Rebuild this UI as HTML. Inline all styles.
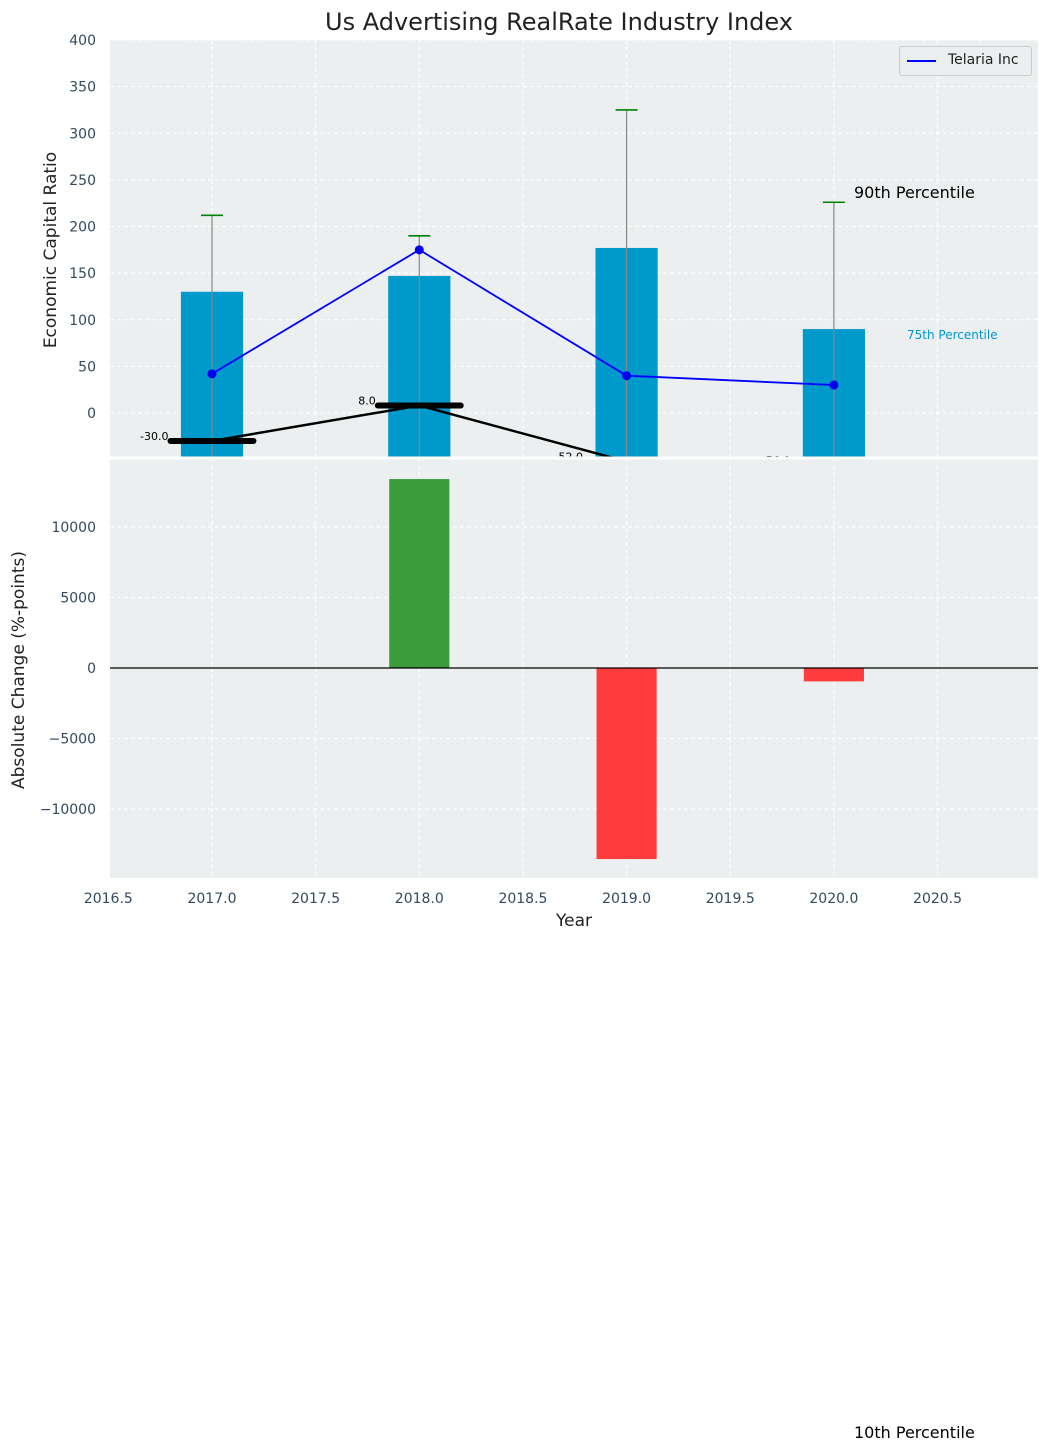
<!DOCTYPE html>
<html><head><meta charset="utf-8"><style>
body{margin:0;background:#fff;}
svg{display:block;font-family:"DejaVu Sans","Liberation Sans",sans-serif;}
</style></head><body>
<svg id="chart" width="1048" height="1452">
<text x="559" y="30" font-size="24" text-anchor="middle" fill="#222">Us Advertising RealRate Industry Index</text>
<g id="topgrp"></g><g id="botgrp"></g>
</svg>
<script>
const years=[2017,2018,2019,2020];
const barVals=[130,147,177,90];
const lineVals=[42,175,40,30];
const whiskerTops=[212,190,325,226];
const medianVals=[-30,8,-52,-56];
const changeVals=[0,13400,-13550,-950];
const topTicks=[0,50,100,150,200,250,300,350,400];
const botTicks=[-10000,-5000,0,5000,10000];
const xTicks=[2016.5,2017,2017.5,2018,2018.5,2019,2019.5,2020,2020.5];
const NS="http://www.w3.org/2000/svg";
const L=110,R=1038,T1=40,B1=458,T2=458,B2=878;
const x=v=>L+(v-2016.508)*207.3;
const y1=v=>413-v*0.9325;
const y2=v=>668-v*0.0141;
function mk(p,t,a){const e=document.createElementNS(NS,t);for(const k in a)e.setAttribute(k,a[k]);p.appendChild(e);return e;}
const topG=document.getElementById('topgrp'),botG=document.getElementById('botgrp'),svgEl=document.getElementById('chart');
const defs=mk(svgEl,'defs',{});
const c1=mk(defs,'clipPath',{id:'c1'});mk(c1,'rect',{x:L,y:T1,width:R-L,height:B1-T1});
const c2=mk(defs,'clipPath',{id:'c2'});mk(c2,'rect',{x:L,y:T2,width:R-L,height:B2-T2});
let e;
e=mk(topG,'rect',{x:L,y:T1,width:R-L,height:B1-T1,fill:'#eceff0'});


e=mk(botG,'rect',{x:L,y:T2,width:R-L,height:B2-T2,fill:'#eceff0'});


const g1=mk(topG,'g',{'clip-path':'url(#c1)'}),g2=mk(botG,'g',{'clip-path':'url(#c2)'});
xTicks.forEach(t=>{
 if(t===2016.5)return;
 mk(g1,'line',{x1:x(t),x2:x(t),y1:T1,y2:B1,stroke:'#fff','stroke-dasharray':'4,3'});
 mk(g2,'line',{x1:x(t),x2:x(t),y1:T2,y2:B2,stroke:'#fff','stroke-dasharray':'4,3'});
});
topTicks.forEach(t=>{
 mk(g1,'line',{x1:L,x2:R,y1:y1(t),y2:y1(t),stroke:'#fff','stroke-dasharray':'4,3'});
 e=mk(topG,'text',{x:96,y:y1(t)+5,'font-size':14,'text-anchor':'end',fill:'#34495e'});e.textContent=t;
 
 
});
botTicks.forEach(t=>{
 mk(g2,'line',{x1:L,x2:R,y1:y2(t),y2:y2(t),stroke:'#fff','stroke-dasharray':'4,3'});
 e=mk(botG,'text',{x:96,y:y2(t)+5,'font-size':14,'text-anchor':'end',fill:'#34495e'});e.textContent=(t<0?'\u2212'+(-t):t);
 
 
});
xTicks.forEach(t=>{
 e=mk(botG,'text',{x:x(t),y:903,'font-size':14,'text-anchor':'middle',fill:'#34495e'});e.textContent=t.toFixed(1);
 
 
});
years.forEach((yr,i)=>{
 const v=barVals[i];
 e=mk(g1,'rect',{x:x(yr-0.15),y:y1(v),width:0.3*207.3,height:B1-y1(v),fill:'#0099cc'});
 
 
 e=mk(g1,'line',{x1:x(yr),x2:x(yr),y1:y1(whiskerTops[i]),y2:B1,stroke:'#888','stroke-width':1.2});
 
 
 mk(g1,'line',{x1:x(yr)-11,x2:x(yr)+11,y1:y1(whiskerTops[i]),y2:y1(whiskerTops[i]),stroke:'green','stroke-width':1.6});
});
e=mk(g1,'polyline',{points:years.map((yr,i)=>x(yr)+','+y1(medianVals[i])).join(' '),fill:'none',stroke:'#000','stroke-width':2.5});


years.forEach((yr,i)=>{
 mk(g1,'line',{x1:x(yr-0.2),x2:x(yr+0.2),y1:y1(medianVals[i]),y2:y1(medianVals[i]),stroke:'#000','stroke-width':6,'stroke-linecap':'round'});
 e=mk(g1,'text',{x:x(yr-0.21),y:y1(medianVals[i])-1,'font-size':11,'text-anchor':'end',fill:'#000'});e.textContent=medianVals[i].toFixed(1);
 
 
});
e=mk(g1,'polyline',{points:years.map((yr,i)=>x(yr)+','+y1(lineVals[i])).join(' '),fill:'none',stroke:'#0000ff','stroke-width':1.8});


years.forEach((yr,i)=>{
 e=mk(g1,'circle',{cx:x(yr),cy:y1(lineVals[i]),r:4.5,fill:'#0000ee'});
 
 
});
years.forEach((yr,i)=>{
 const v=changeVals[i];if(!v)return;
 e=mk(g2,'rect',{x:x(yr-0.145),y:Math.min(y2(v),y2(0)),width:0.29*207.3,height:Math.abs(y2(v)-y2(0)),fill:v>0?'#3c9c3c':'#ff3c3c'});
 
 
});
mk(g2,'line',{x1:L,x2:R,y1:y2(0),y2:y2(0),stroke:'#000','stroke-width':1.2});
mk(svgEl,'line',{x1:L,x2:R,y1:458,y2:458,stroke:'#fff','stroke-width':3});
</script>
<div style="position:absolute;left:0;top:0;width:1048px;height:1452px;pointer-events:none;font-family:'DejaVu Sans','Liberation Sans',sans-serif;">
 <div style="position:absolute;left:899px;top:46px;width:131px;height:28px;border:1px solid #ccc;background:#eceff0;border-radius:3px;">
  <div style="position:absolute;left:7px;top:13px;width:29px;height:2px;background:#00f;"></div>
  <div style="position:absolute;left:48px;top:5px;font-size:14px;color:#222;">Telaria Inc</div>
 </div>
 <div style="position:absolute;left:51px;top:250px;transform:translate(-50%,-50%) rotate(-90deg);font-size:17px;color:#222;white-space:nowrap;">Economic Capital Ratio</div>
 <div style="position:absolute;left:19px;top:670px;transform:translate(-50%,-50%) rotate(-90deg);font-size:17px;color:#222;white-space:nowrap;">Absolute Change (%-points)</div>
 <div style="position:absolute;left:574px;top:911px;transform:translateX(-50%);font-size:17px;color:#222;">Year</div>
 <div style="position:absolute;left:854px;top:183px;font-size:16px;color:#000;">90th Percentile</div>
 <div style="position:absolute;left:907px;top:328px;font-size:12px;color:#0099cc;">75th Percentile</div>
 <div style="position:absolute;left:854px;top:1423px;font-size:16px;color:#000;">10th Percentile</div>
</div>
</body></html>
